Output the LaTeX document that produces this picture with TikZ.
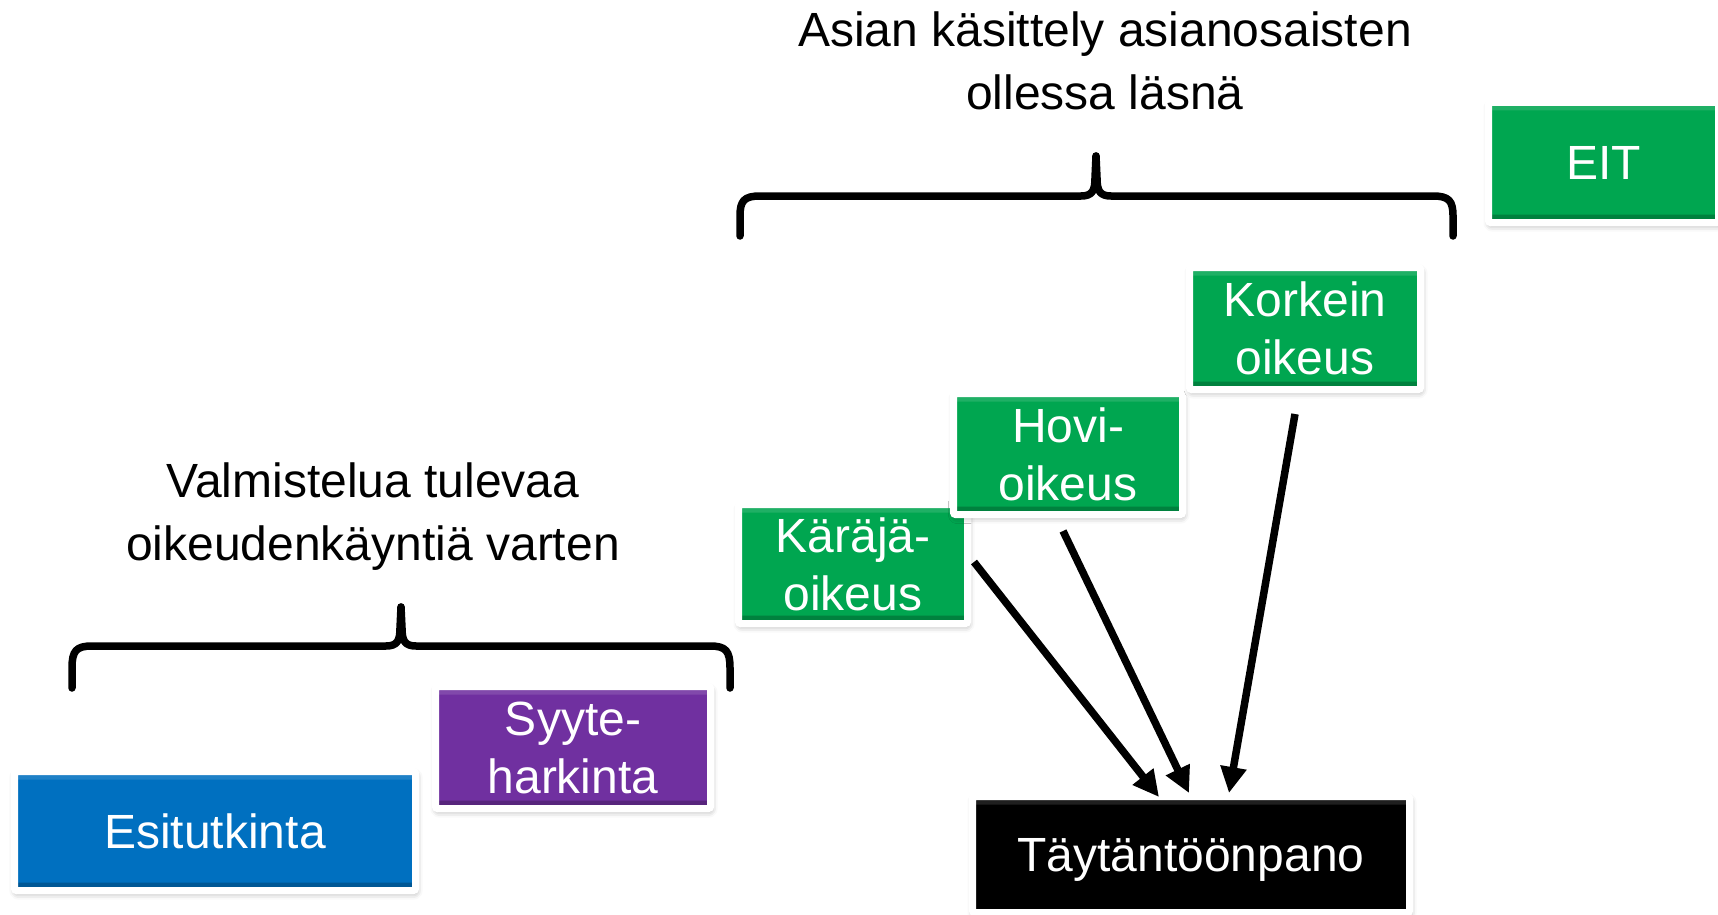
\documentclass[tikz,border=0pt]{standalone}
\usepackage{fontspec}
\setmainfont{Liberation Sans}
\usetikzlibrary{arrows.meta,shadows.blur}
\definecolor{cblue}{RGB}{0,112,192}
\definecolor{cpurple}{RGB}{112,48,160}
\definecolor{cgreen}{RGB}{0,166,80}
\tikzset{
 box/.style={draw=white, line width=7pt, rounded corners=2pt, inner sep=0pt, align=center, text=white,
   font=\fontsize{48}{58}\selectfont,
   blur shadow={shadow xshift=1pt, shadow yshift=-3pt, shadow blur radius=6pt, shadow opacity=35},
   path picture={
     \fill[black,opacity=0.22] (path picture bounding box.south west) rectangle ([yshift=8pt]path picture bounding box.south east);
     \fill[white,opacity=0.12] (path picture bounding box.north west) rectangle ([yshift=-8pt]path picture bounding box.north east);
   }},
 heading/.style={align=center, font=\fontsize{48}{63}\selectfont, inner sep=0pt},
 arr/.style={line width=7.5pt, -{Triangle[length=26pt,width=25pt]}},
 brace/.style={line width=7.5pt, line cap=round, line join=round}
}
\begin{document}
\begin{tikzpicture}[x=1pt,y=-1pt]
\useasboundingbox (0,0) rectangle (1718,915);
% boxes
\node[box, fill=cblue, minimum width=401pt, minimum height=119pt] (esi) at (215,831) {Esitutkinta};
\node[box, fill=cpurple, minimum width=275pt, minimum height=122pt] (syy) at (573,747.5) {Syyte-\\harkinta};
\node[box, fill=cgreen, minimum width=229pt, minimum height=119pt] (kar) at (853,564) {Käräjä-\\oikeus};
\node[box, fill=cgreen, minimum width=229pt, minimum height=121pt] (hovi) at (1068,454) {Hovi-\\oikeus};
\node[box, fill=cgreen, minimum width=231pt, minimum height=122pt] (kor) at (1305,328.5) {Korkein\\oikeus};
\node[box, fill=cgreen, minimum width=230pt, minimum height=120pt] (eit) at (1603.5,162.5) {EIT};
\node[box, fill=black, minimum width=437pt, minimum height=116pt, text depth=0pt] (tay) at (1191,854.5) {Täytäntöönpano};
% headings
\node[heading] (h1) at (373,517) {Valmistelua tulevaa\\oikeudenkäyntiä varten};
\node[heading] (h2) at (1105,61) {Asian käsittely asianosaisten\\ollessa läsnä};
% braces
\draw[brace] (72,688) -- (72,668) .. controls (72,651) and (76,646) .. (92,646) -- (386,646)
  .. controls (397,646) and (400,641) .. (400,628) -- (401,607);
\draw[brace] (730,688) -- (730,668) .. controls (730,651) and (726,646) .. (710,646) -- (416,646)
  .. controls (405,646) and (402,641) .. (402,628) -- (401,607);
\draw[brace] (740,236) -- (740,216) .. controls (740,201) and (744,196) .. (760,196) -- (1081,196)
  .. controls (1092,196) and (1095,191) .. (1095,178) -- (1096,156);
\draw[brace] (1453,236) -- (1453,216) .. controls (1453,201) and (1449,196) .. (1433,196) -- (1111,196)
  .. controls (1100,196) and (1097,191) .. (1097,178) -- (1096,156);
% arrows
\draw[arr] ([shift={(3,-2)}]kar.east) -- ([shift={(-32,4)}]tay.north);
\draw[arr] ([shift={(-5,13)}]hovi.south) -- ([shift={(-2,0)}]tay.north);
\draw[arr] ([shift={(-10,21)}]kor.south) -- ([shift={(38,0)}]tay.north);
\end{tikzpicture}
\end{document}
